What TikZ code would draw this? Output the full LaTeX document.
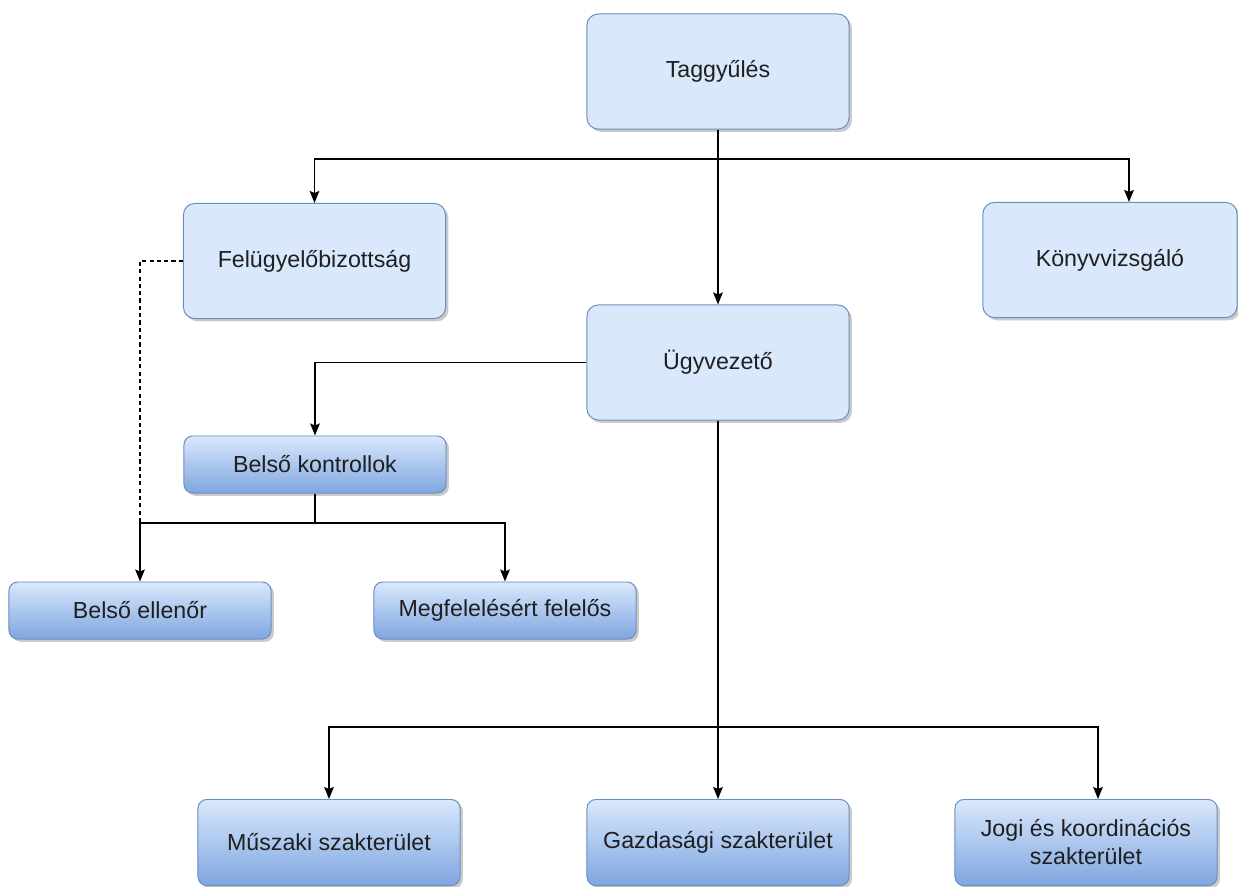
\documentclass[tikz,border=0pt]{standalone}
\usepackage{fontspec}
\setmainfont{Liberation Sans}
\usetikzlibrary{arrows.meta,shadows}
\definecolor{boxfill}{RGB}{218,232,252}
\definecolor{boxline}{RGB}{108,142,191}
\definecolor{boxdark}{RGB}{126,166,224}

\begin{document}
\begin{tikzpicture}[x=0.025cm, y=-0.025cm,
    every node/.style={font=\fontsize{16.5}{20}\selectfont, text=black!88},
    box/.style={draw=boxline, fill=boxfill, line width=0.7pt, rounded corners=0.28cm,
        minimum width=6.55cm, minimum height=2.875cm,
        drop shadow={shadow xshift=0.07cm, shadow yshift=-0.07cm, fill=black!35, opacity=0.6}},
    gbox/.style={box, top color=boxfill, bottom color=boxdark, rounded corners=0.22cm, minimum height=1.425cm},
    tallbox/.style={gbox, minimum height=2.15cm},
    conn/.style={line width=1.07pt, -{Stealth[length=0.3cm, width=0.24cm, inset=0.05cm]}}]
    \useasboundingbox (0,0) rectangle (1238,887);

    % boxes
    \node[box] (tag) at (718,71.5) {Taggyűlés};
    \node[box] (fb) at (314.5,261) {Felügyelőbizottság};
    \node[box, minimum width=6.35cm] (kv) at (1110,260) {Könyvvizsgáló};
    \node[box] (ugy) at (718,362.5) {Ügyvezető};
    \node[gbox] (bk) at (315,464.5) {Belső kontrollok};
    \node[gbox] (be) at (140,610.5) {Belső ellenőr};
    \node[gbox] (mf) at (505,610.5) {Megfelelésért felelős};
    \node[tallbox] (mu) at (329,842.5) {Műszaki szakterület};
    \node[tallbox] (gaz) at (718,842.5) {Gazdasági szakterület};
    \node[tallbox, align=center] (jogi) at (1086,842.5) {Jogi és koordinációs\\szakterület};

    % connectors
    \coordinate (tagsplit) at (718,159);
    \coordinate (bksplit) at (315,523);
    \coordinate (ugysplit) at (718,727);
    \draw[conn] (tag.south) -- (ugy.north);
    \draw[conn] (tagsplit) -| (fb.north);
    \draw[conn] (tagsplit) -| (kv.north -| 1129,0);
    \draw[conn] (ugy.west) -| (bk.north);
    \draw[line width=1.07pt] (bk.south) -- (bksplit);
    \draw[conn] (bksplit) -| (be.north);
    \draw[conn] (bksplit) -| (mf.north);
    \draw[line width=0.9pt, dash pattern=on 3pt off 2.2pt] (fb.west) -| (be.north |- bksplit);
    \draw[conn] (ugy.south) -- (gaz.north);
    \draw[conn] (ugysplit) -| (mu.north);
    \draw[conn] (ugysplit) -| (jogi.north -| 1098,0);
\end{tikzpicture}
\end{document}
